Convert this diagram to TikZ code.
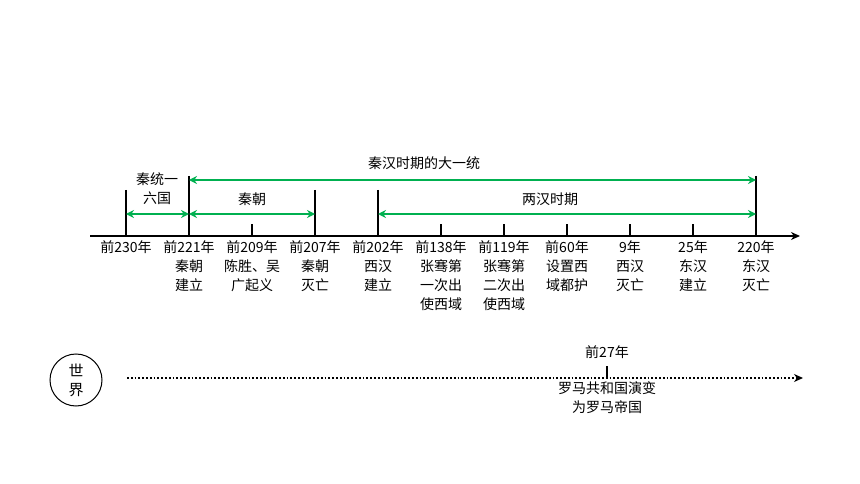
\documentclass[tikz,border=0pt]{standalone}
\usepackage{fontspec}
\setmainfont{Noto Sans CJK SC}
\usetikzlibrary{arrows.meta}
\definecolor{grn}{RGB}{0,176,80}
\begin{document}
\begin{tikzpicture}[x=1pt,y=-1pt,font=\fontsize{14}{19}\selectfont,
 txt/.style={align=center,inner sep=0pt},
 garrow/.style={grn,line width=2pt,{Stealth[length=8pt,width=8pt]}-{Stealth[length=8pt,width=8pt]}},
 tall/.style={line width=1.8pt},
 short/.style={line width=1.5pt}]
\useasboundingbox (0,0) rectangle (860,484);
\coordinate (a0) at (90,236);
\coordinate (a1) at (800,236);
\draw[line width=1.5pt,-{Stealth[length=9pt,width=8pt]}] (a0) -- (a1);
\foreach \x/\t in {126/190,189/176,315/190,378/190,756/176}
  \draw[tall] (\x,\t) -- (\x,236);
\foreach \x in {252,441,504,567,630,693}
  \draw[short] (\x,224) -- (\x,236);
\foreach \x/\l/\d in {126/前230年/{},189/前221年/{秦朝\\建立},252/前209年/{陈胜、吴\\广起义},315/前207年/{秦朝\\灭亡},378/前202年/{西汉\\建立},441/前138年/{张骞第\\一次出\\使西域},504/前119年/{张骞第\\二次出\\使西域},567/前60年/{设置西\\域都护},630/9年/{西汉\\灭亡},693/25年/{东汉\\建立},756/220年/{东汉\\灭亡}}
  \node[txt,anchor=north] at (\x,240) {\l\\\d};
\coordinate (g1) at (126,214); \coordinate (g2) at (189,214);
\coordinate (g3) at (315,214); \coordinate (g4) at (378,214);
\coordinate (g5) at (756,214); \coordinate (h1) at (189,180); \coordinate (h2) at (756,180);
\draw[garrow] (g1) -- (g2);
\draw[garrow] (g2) -- (g3);
\draw[garrow] (g4) -- (g5);
\draw[garrow] (h1) -- (h2);
\node[txt] (t1) at (157,189) {秦统一\\六国};
\node[txt] (t2) at (424,163) {秦汉时期的大一统};
\node[txt] (t3) at (252,199) {秦朝};
\node[txt] (t4) at (550,199) {两汉时期};
\node[draw,circle,minimum size=52pt,line width=1pt,txt,font=\fontsize{15}{19}\selectfont] (w) at (76,380) {世\\界};
\coordinate (d0) at (127,378); \coordinate (d1) at (803,378);
\draw[line width=1.8pt,dotted,-{Stealth[length=9pt,width=8pt]}] (d0) -- (d1);
\draw[short] (607,366) -- (607,378);
\node[txt] (r1) at (607,352) {前27年};
\node[txt,anchor=north] (r2) at (607,381) {罗马共和国演变\\为罗马帝国};
\end{tikzpicture}
\end{document}
